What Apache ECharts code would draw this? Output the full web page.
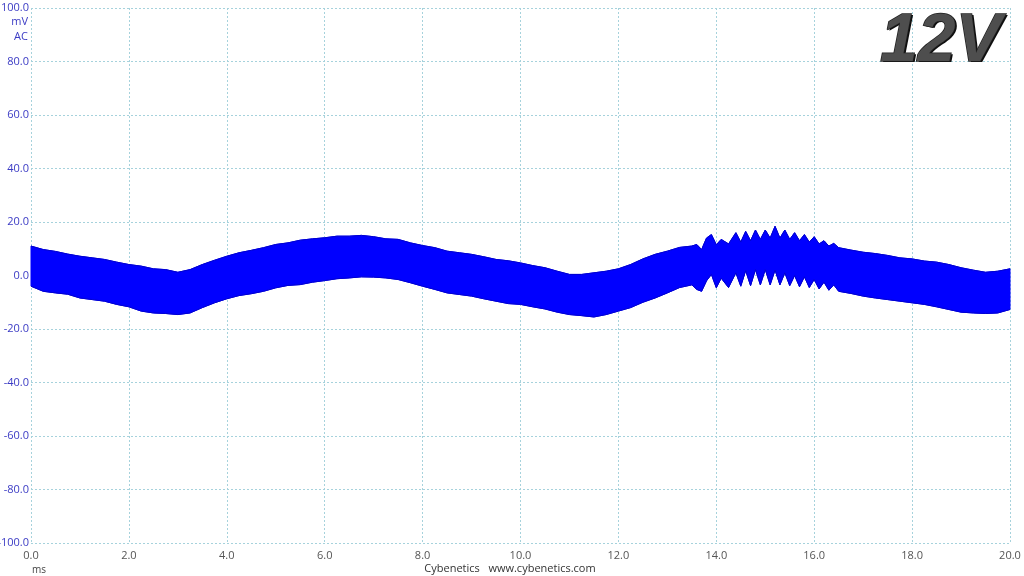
<!DOCTYPE html>
<html>
<head>
<meta charset="utf-8">
<script src="https://cdn.jsdelivr.net/npm/echarts@6/dist/echarts.min.js"></script>
<style>
html,body{margin:0;padding:0;background:#fff;}
#c{width:1024px;height:576px;}
</style>
</head>
<body>
<div id="c"></div>
<script>
// time axis (ms)
const times = [0,0.25,0.5,0.75,1,1.25,1.5,1.75,2,2.25,2.5,2.75,3,3.25,3.5,3.75,4,4.25,4.5,4.75,5,5.25,5.5,5.75,6,6.25,6.5,6.75,7,7.25,7.5,7.75,8,8.25,8.5,8.75,9,9.25,9.5,9.75,10,10.25,10.5,10.75,11,11.25,11.5,11.75,12,12.25,12.5,12.75,13,13.25,13.5,13.6,13.7,13.8,13.9,14.0,14.1,14.25,14.4,14.5,14.6,14.7,14.8,14.9,15.0,15.1,15.2,15.3,15.4,15.5,15.6,15.7,15.8,15.9,16.0,16.1,16.2,16.3,16.4,16.5,16.75,17,17.25,17.5,17.75,18,18.25,18.5,18.75,19,19.25,19.5,19.75,20];
// upper envelope of ripple (mV)
const upper = [11,9.7,9,8,7.2,6.6,6,5,4.1,3.5,2.5,2.2,1.2,2.2,4.1,5.7,7.2,8.5,9.4,10.4,11.6,12.2,13.2,13.7,14.1,14.7,14.7,15,14.5,13.7,13.5,12.2,11.2,10.4,9.1,8.5,7.9,7,6,5.5,4.7,3.7,2.9,1.6,0.4,0.4,1,1.6,2.5,4.1,6.2,7.9,9.1,10.5,11,11.6,9.7,14,15.3,11.5,13.5,11.8,16,12.5,16.5,13,17,13.5,17,14,18.4,14,17,13.5,16,13,15.3,12.5,14.5,11.8,13,11,12,10.4,9.5,8.7,8.2,7.5,6.6,6.2,5.4,5,4.1,2.9,2,1.2,1.6,2.5];
// lower envelope of ripple (mV)
const lower = [-4,-5.9,-6.5,-7,-8.4,-9,-9.6,-10.8,-11.7,-13.3,-14,-14.2,-14.6,-14,-12,-10.2,-8.7,-7.5,-6.8,-5.9,-4.6,-3.7,-3.4,-2.5,-1.9,-1.2,-0.9,-0.5,-0.6,-0.9,-1.5,-2.7,-4,-5.2,-6.5,-7.1,-7.7,-8.7,-9.6,-10.5,-10.8,-11.7,-12.5,-13.7,-14.6,-15,-15.5,-14.6,-13.3,-12,-10,-8.4,-6.5,-4.5,-3.5,-5.2,-5.9,-2,0.4,-4.6,-1,-4.5,1,-4,1.8,-3.8,2.2,-3.5,2.2,-3.5,2,-3.5,1,-3.8,0,-4.2,-0.5,-4.5,-1.5,-5,-2.5,-5.5,-3.5,-5.9,-6.7,-7.7,-8.4,-9,-9.6,-10.2,-10.8,-11.7,-12.7,-13.7,-14,-14.2,-14,-12.7];
const xTicks = {min:0, max:20, interval:2};
const yTicks = {min:-100, max:100, interval:20};

const upperData = times.map((t,i)=>[t, upper[i]]);
const lowerData = times.map((t,i)=>[t, lower[i]]);

const chart = echarts.init(document.getElementById('c'), null, {renderer:'canvas'});
const gridLine = {show:true, lineStyle:{color:'#a6d2dc', type:[2,2], width:1}};
const font = '"Open Sans", "Noto Sans", sans-serif';
const titleFont = 'italic bold 68px "Liberation Sans", Arial, sans-serif';
const BLUE = '#0000ff';
chart.setOption({
  animation:false,
  backgroundColor:'#ffffff',
  grid:{left:31, right:14, top:8, bottom:33, containLabel:false, outerBoundsMode:'none'},
  xAxis:{type:'value', min:xTicks.min, max:xTicks.max, interval:xTicks.interval,
    axisLine:{show:false}, axisTick:{show:false}, splitLine:gridLine,
    axisLabel:{color:'#555555', fontSize:11, fontFamily:font, margin:7, formatter:v=>v.toFixed(1)}},
  yAxis:{type:'value', min:yTicks.min, max:yTicks.max, interval:yTicks.interval,
    axisLine:{show:false}, axisTick:{show:false}, splitLine:gridLine,
    axisLabel:{color:'#3b3bc4', fontSize:11, fontFamily:font, margin:2, formatter:v=>v.toFixed(1)}},
  series:[
    {type:'custom', data:[[0]], z:3, silent:true,
      renderItem:function(params, api){
        const pts = [];
        for (let i=0;i<times.length;i++) pts.push(api.coord([times[i], upper[i]]));
        for (let i=times.length-1;i>=0;i--) pts.push(api.coord([times[i], lower[i]]));
        return {type:'polygon', shape:{points:pts}, style:{fill:BLUE, stroke:BLUE, lineWidth:1}};
      }},
    {type:'line', data:upperData, symbol:'none', lineStyle:{color:'#0000d0', width:1}, z:4},
    {type:'line', data:lowerData, symbol:'none', lineStyle:{color:'#0000d0', width:1}, z:4}
  ],
  graphic:[
    {type:'text', x:28, y:22, style:{text:'mV', fill:'#3b3bc4', font:'11px '+font, textAlign:'right', textVerticalAlign:'middle'}},
    {type:'text', x:28, y:37, style:{text:'AC', fill:'#3b3bc4', font:'11px '+font, textAlign:'right', textVerticalAlign:'middle'}},
    {type:'text', x:32, y:570, style:{text:'ms', fill:'#444444', font:'10px '+font, textAlign:'left', textVerticalAlign:'middle'}},
    {type:'text', x:510, y:569, style:{text:'Cybenetics   www.cybenetics.com', fill:'#333333', font:'11px '+font, textAlign:'center', textVerticalAlign:'middle'}},
    {type:'text', x:882, y:43, z:10, style:{text:'12V', font:titleFont, textAlign:'left', textVerticalAlign:'middle', fill:'#0e0e0e'}},
    {type:'text', x:880, y:42, z:11, style:{text:'12V', font:titleFont, textAlign:'left', textVerticalAlign:'middle', fill:'#4e4e4e', stroke:'#1e1e1e', lineWidth:1.5}}
  ]
});
</script>
</body>
</html>
